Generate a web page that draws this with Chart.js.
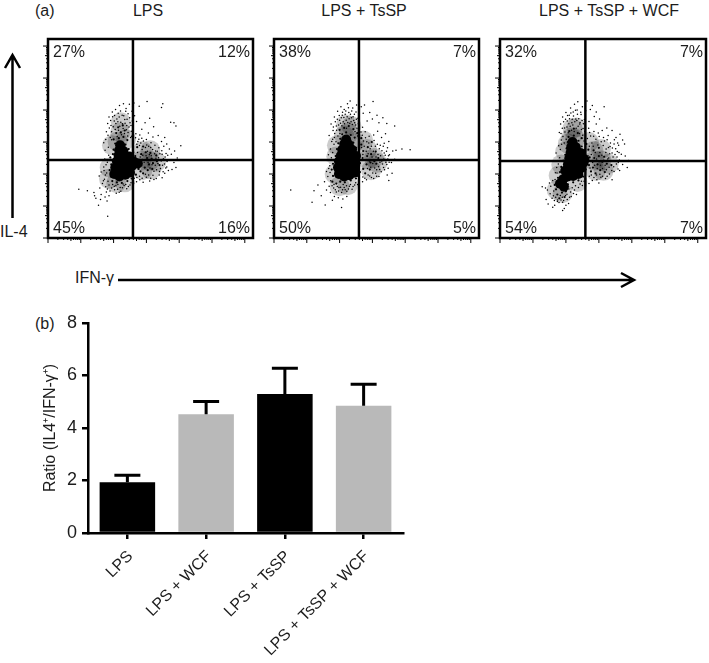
<!DOCTYPE html>
<html>
<head>
<meta charset="utf-8">
<title>IL-4 / IFN-γ</title>
<script src="https://cdn.jsdelivr.net/npm/chart.js@4"></script>
<style>
    html, body { margin: 0; padding: 0; background: #fff; }
    #page { position: relative; width: 709px; height: 663px; overflow: hidden; font-family: "Liberation Sans", Arial, sans-serif; color: #1c1c1c; }
    #page canvas, #page svg { position: absolute; }
    .label { position: absolute; font-size: 16px; line-height: 18px; white-space: nowrap; }
    .mid { transform: translateX(-50%); }
</style>
</head>
<body>
<div id="page">
    <div class="label" style="left:35px;top:2px">(a)</div>
    <div class="label mid" style="left:148px;top:2px">LPS</div>
    <div class="label mid" style="left:364px;top:2px">LPS + TsSP</div>
    <div class="label mid" style="left:609px;top:2px">LPS + TsSP + WCF</div>
    <div class="label" style="left:0;top:223px">IL-4</div>
    <div class="label" style="left:75px;top:269px">IFN-γ</div>
    <div class="label" style="left:35px;top:315px">(b)</div>

    <canvas id="panelLps" width="213" height="207" style="left:42px;top:37px"></canvas>
    <canvas id="panelTssp" width="213" height="207" style="left:268px;top:37px"></canvas>
    <canvas id="panelWcf" width="214" height="207" style="left:494px;top:37px"></canvas>
    <canvas id="ratioChart" width="420" height="358" style="left:0;top:305px"></canvas>

    <svg width="709" height="300" style="left:0;top:0" fill="none" stroke="#000" stroke-width="2.5">
        <path d="M12.5 218V56M5 68L12.5 55L20 68"/>
        <path d="M118 280H633M621 273L634 280L621 287"/>
    </svg>
</div>

<script>
// bar chart values
const ratioLabels = ['LPS', 'LPS + WCF', 'LPS + TsSP', 'LPS + TsSP + WCF'];
const ratioMeans = [1.93, 4.52, 5.3, 4.85];
const ratioUpper = [2.2, 5.01, 6.28, 5.67];
const ratioColors = ['#000000', '#b9b9b9', '#000000', '#b9b9b9'];
const ratioTicks = [0, 2, 4, 6, 8];

// quadrant percentages: top left, top right, bottom left, bottom right
const lpsPercents = ['27%', '12%', '45%', '16%'];
const tsspPercents = ['38%', '7%', '50%', '5%'];
const wcfPercents = ['32%', '7%', '54%', '7%'];

// quadrant gates [IFN-g, IL-4], in log decades
const lpsGate = [2.59, 2.44];
const tsspGate = [2.59, 2.44];
const wcfGate = [2.59, 2.41];

// dot plots in log decades [IFN-g, IL-4]
// haze = where the dots merge to grey, core = where they merge to black
const lpsHaze = [[2.12,3.02],[2.2,3.3],[2.22,3.62],[2.38,3.08],[1.95,2.9],[2.85,2.42],[3.1,2.42],[3.3,2.38],[2.88,2.12],[3.14,2.14],[2.88,2.72],[3.12,2.74],[2.08,1.72],[2.34,1.74],[1.88,2.2],[1.86,1.85]];
const lpsCore = [[2.02,2.0],[2.18,1.92],[2.36,1.98],[2.5,2.05],[2.05,2.2],[2.22,2.15],[2.4,2.2],[2.56,2.25],[2.1,2.4],[2.28,2.38],[2.46,2.4],[2.62,2.38],[2.74,2.33],[2.15,2.58],[2.32,2.56],[2.48,2.55],[2.17,2.74],[2.3,2.72],[2.2,2.9]];
const lpsDense = [[1.9,2.52],[1.93,2.3],[1.88,2.12],[1.92,1.92],[1.96,1.78],[2.1,1.74],[2.25,1.72],[2.42,1.78],[2.55,1.86],[2.68,1.98],[2.82,2.08],[2.95,2.2],[3.08,2.3],[3.2,2.34],[3.32,2.4],[2.88,2.44],[3.02,2.5],[3.16,2.48],[2.84,2.62],[2.98,2.68],[3.12,2.66],[2.76,2.16],[2.9,2.02],[3.04,2.12],[3.18,2.16],[2.05,2.95],[2.36,2.92],[2.46,2.78],[2.0,3.08],[2.16,3.12],[2.3,3.16],[2.42,3.06],[2.08,3.28],[2.22,3.3],[2.34,3.36],[2.0,2.76],[1.98,2.62],[2.6,2.68],[2.66,2.56],[3.3,2.58],[3.4,2.28],[2.14,3.46],[2.28,3.52],[2.72,2.84],[2.9,2.86]];
const lpsSparse = [[1.78,3.32],[1.82,3.58],[1.86,3.78],[1.92,3.52],[1.96,3.94],[2.02,3.66],[2.06,4.02],[2.1,3.72],[2.14,3.9],[2.18,4.14],[2.22,3.62],[2.26,3.84],[2.3,4.2],[2.34,3.7],[2.38,4.05],[2.4,3.52],[2.44,3.88],[2.48,4.18],[2.5,3.6],[2.54,3.34],[2.56,3.96],[2.58,4.1],[2.62,4.22],[2.64,3.82],[2.7,3.64],[2.78,4.12],[3.02,4.27],[3.5,4.2],[3.46,4.08],[3.74,3.62],[3.84,3.6],[3.9,3.5],[3.1,3.74],[3.22,3.48],[2.86,3.4],[2.96,3.6],[3.06,3.28],[3.2,3.16],[3.36,3.2],[3.46,3.02],[3.56,3.14],[3.62,2.94],[3.7,2.78],[3.76,2.62],[3.86,2.72],[4.05,2.88],[3.94,2.5],[3.84,2.36],[3.78,2.14],[3.7,2.44],[3.62,2.22],[3.56,2.02],[3.48,1.88],[3.4,2.08],[3.3,1.86],[3.2,1.96],[3.1,1.78],[3.0,1.9],[2.9,1.74],[2.8,1.82],[2.7,1.76],[3.9,2.2],[3.48,2.62],[3.38,2.82],[3.26,2.9],[3.14,2.98],[3.0,3.08],[2.86,3.12],[2.74,3.02],[2.68,3.26],[2.8,3.22],[3.52,2.48],[3.6,2.64],[3.28,2.72],[1.62,2.06],[1.7,2.22],[1.56,1.94],[1.72,1.84],[1.66,1.7],[1.58,1.56],[1.76,1.6],[1.86,1.66],[1.94,1.56],[2.02,1.62],[2.12,1.52],[2.2,1.58],[2.32,1.64],[2.4,1.54],[2.5,1.66],[2.58,1.56],[2.08,1.4],[2.22,1.46],[1.78,1.44],[1.62,1.36],[1.4,1.42],[1.42,1.32],[1.46,1.24],[1.6,1.2],[1.74,1.28],[1.86,1.32],[1.8,1.16],[1.54,1.02],[0.94,1.52],[1.2,1.48],[1.82,0.68],[1.74,2.74],[1.7,2.98],[1.84,2.84],[1.76,3.08],[1.9,3.14],[1.94,3.32],[2.44,3.3],[2.52,3.14],[2.58,2.94],
    [1.83,3.21],[1.87,3.44],[1.91,3.67],[1.94,3.07],[1.97,3.79],[1.99,3.48],[2.03,3.83],[2.05,3.39],[2.07,3.58],[2.11,3.17],[2.13,3.63],[2.15,3.37],[2.17,3.78],[2.19,3.49],[2.21,3.97],[2.24,3.23],[2.27,3.57],[2.29,3.42],[2.31,3.82],[2.33,3.27],[2.35,3.59],[2.37,3.96],[2.39,3.38],[2.41,3.71],[2.43,3.19],[2.47,3.47],[2.49,3.76],[2.53,3.52],[2.55,3.18],[2.57,3.66],
    [2.67,3.13],[2.71,2.93],[2.73,2.67],[2.77,3.09],[2.79,2.89],[2.81,2.53],[2.83,2.97],[2.87,2.77],[2.89,2.59],[2.91,3.03],[2.93,2.37],[2.97,2.83],[2.99,2.57],[3.01,2.91],[3.03,2.71],[3.05,2.37],[3.07,2.87],[3.09,2.61],[3.11,2.19],[3.13,2.83],[3.15,2.57],[3.17,2.29],[3.19,2.77],[3.21,2.43],[3.23,2.09],[3.25,2.63],[3.27,2.27],[3.29,2.49],[3.31,2.13],[3.33,2.71],[3.35,2.33],[3.37,2.51],[3.39,1.97],[3.41,2.63],[3.43,2.17],[3.45,2.41],[3.47,2.73],[3.49,2.27],[3.51,2.07],[3.53,2.87],[3.55,2.31],[3.57,2.53],[3.59,2.19],[3.63,2.39],[3.65,2.59],[3.67,2.11],[2.71,1.89],[2.79,1.93],[2.87,1.87],[2.97,1.99],[3.07,1.97],[3.13,1.87],[3.23,1.83],
    [1.79,2.03],[1.81,2.37],[1.83,1.77],[1.85,2.59],[1.77,2.29],[1.75,1.97],[1.73,2.47],[1.71,2.11],[1.69,1.79],[1.81,1.53],[1.89,1.47],[1.97,1.67],[2.03,1.51],[2.07,1.63],[2.13,1.67],[2.17,1.43],[2.27,1.57],[2.29,1.69],[2.37,1.67],[2.45,1.61],[2.53,1.73],[2.61,1.71],[2.63,1.87]];

const tsspHaze = [[2.14,3.2],[2.28,3.28],[2.2,3.55],[2.36,3.5],[1.9,2.55],[2.44,3.0],[1.85,2.0],[2.0,1.62],[2.25,1.65],[2.86,2.45],[3.05,2.5],[2.84,2.78],[2.96,2.12],[3.15,2.35],[2.72,3.05],[1.92,2.9]];
const tsspCore = [[1.98,2.0],[2.14,1.92],[2.3,1.96],[2.46,2.04],[1.95,2.2],[2.12,2.16],[2.28,2.18],[2.44,2.22],[1.98,2.4],[2.14,2.36],[2.3,2.38],[2.46,2.4],[2.04,2.58],[2.2,2.56],[2.36,2.58],[2.5,2.56],[2.08,2.76],[2.24,2.74],[2.38,2.76],[2.14,2.94],[2.28,2.92],[2.2,3.08]];
const tsspDense = [[1.8,2.32],[1.76,2.14],[1.8,1.94],[1.78,1.76],[1.9,1.7],[2.02,1.76],[2.16,1.74],[2.34,1.8],[2.5,1.86],[2.62,2.06],[2.72,2.16],[2.82,2.3],[2.94,2.36],[3.06,2.4],[3.18,2.5],[3.28,2.42],[2.7,2.5],[2.84,2.56],[2.96,2.62],[3.1,2.7],[2.72,2.72],[2.86,2.84],[2.66,2.92],[2.78,2.02],[2.92,2.14],[1.88,2.56],[1.92,2.78],[1.96,2.96],[2.02,3.1],[2.42,2.98],[2.5,2.82],[2.08,3.24],[2.2,3.3],[2.34,3.22],[2.46,3.14],[2.0,3.38],[2.14,3.44],[2.28,3.5],[2.42,3.4],[2.54,3.28],[2.66,3.12],[2.98,3.0],[3.12,2.32],[2.62,2.34]];
const tsspSparse = [[1.74,3.56],[1.8,3.36],[1.84,3.78],[1.9,3.5],[1.94,3.96],[2.0,3.68],[2.04,4.1],[2.08,3.84],[2.14,4.02],[2.2,3.68],[2.24,4.2],[2.28,3.92],[2.32,4.28],[2.36,3.76],[2.4,4.06],[2.46,3.6],[2.5,3.94],[2.52,4.16],[2.56,3.74],[2.6,3.5],[2.66,4.1],[2.72,3.9],[2.76,4.16],[2.84,3.66],[2.92,3.92],[3.0,3.72],[3.02,4.27],[3.14,3.84],[3.2,3.6],[3.32,3.76],[3.44,3.58],[3.68,3.5],[3.4,3.26],[3.28,3.14],[3.16,3.34],[3.04,3.22],[2.9,3.18],[2.78,3.32],[2.7,3.46],[3.36,2.96],[3.46,2.82],[3.5,3.02],[3.24,2.9],[3.36,2.66],[3.52,2.6],[3.62,2.72],[3.68,2.46],[3.58,2.36],[3.44,2.3],[3.48,2.18],[3.34,2.2],[3.22,2.14],[3.1,2.02],[3.2,1.92],[3.04,1.86],[2.92,1.94],[2.82,1.82],[2.7,1.76],[3.5,1.8],[3.6,2.02],[4.15,2.76],[3.72,2.74],[3.9,2.78],[1.62,2.42],[1.66,2.6],[1.7,2.26],[1.6,2.08],[1.64,1.92],[1.54,1.76],[1.68,1.62],[1.6,1.5],[1.72,1.42],[1.82,1.56],[1.9,1.44],[1.98,1.58],[2.06,1.42],[2.14,1.58],[2.22,1.46],[2.3,1.62],[2.38,1.52],[2.46,1.66],[1.84,1.3],[1.96,1.26],[2.1,1.22],[2.22,1.3],[1.78,1.18],[1.34,1.66],[1.22,1.48],[1.16,1.12],[1.56,1.03],[2.06,0.95],[0.51,1.5],[1.44,1.32],[1.72,2.78],[1.76,3.02],[1.84,3.14],[1.68,3.2],
    [1.79,3.09],[1.81,3.47],[1.83,2.93],[1.85,3.27],[1.87,3.63],[1.89,3.01],[1.91,3.37],[1.93,3.71],[1.95,3.19],[1.97,3.53],[1.99,3.83],[2.01,3.27],[2.03,3.59],[2.05,3.76],[2.07,3.51],[2.09,3.93],[2.11,3.63],[2.13,3.77],[2.15,3.57],[2.17,3.87],[2.19,3.97],[2.21,3.43],[2.23,3.79],[2.25,3.61],[2.27,4.07],[2.29,3.73],[2.31,3.59],[2.33,3.87],[2.35,3.63],[2.37,3.97],[2.39,3.55],[2.41,3.79],[2.43,3.67],[2.45,3.87],[2.47,3.33],[2.49,3.53],[2.51,3.71],[2.53,3.43],[2.55,3.19],[2.57,3.57],
    [2.65,3.31],[2.67,2.83],[2.69,3.21],[2.71,2.61],[2.73,3.03],[2.75,2.87],[2.77,2.43],[2.79,3.13],[2.81,2.71],[2.83,3.01],[2.85,2.17],[2.87,2.63],[2.89,2.97],[2.91,2.41],[2.93,2.79],[2.95,2.21],[2.97,2.87],[2.99,2.53],[3.01,2.33],[3.03,2.71],[3.05,3.05],[3.07,2.19],[3.09,2.87],[3.11,2.53],[3.13,2.13],[3.15,2.93],[3.17,2.61],[3.19,2.23],[3.21,2.79],[3.23,2.37],[3.25,2.57],[3.27,2.07],[3.29,2.73],[3.31,2.31],[3.33,2.87],[3.35,2.47],[3.37,2.13],[3.39,2.59],[3.41,2.37],[3.43,2.71],[3.45,1.97],[3.47,2.47],[3.49,2.57],[3.51,2.37],[2.71,1.91],[2.77,1.87],[2.87,1.97],[2.97,1.89],[3.01,2.03],[3.13,1.93],
    [1.71,2.05],[1.73,1.79],[1.69,2.43],[1.67,2.17],[1.75,2.51],[1.77,1.63],[1.79,2.67],[1.83,1.67],[1.87,1.51],[1.93,1.61],[1.97,1.47],[2.03,1.59],[2.09,1.51],[2.11,1.67],[2.17,1.51],[2.21,1.63],[2.27,1.53],[2.33,1.67],[2.41,1.61],[2.49,1.73],[2.55,1.67]];

const wcfHaze = [[2.16,3.14],[2.28,3.1],[2.2,3.42],[2.32,3.45],[1.98,2.7],[1.86,2.3],[1.78,1.95],[1.72,1.5],[1.9,1.4],[2.35,1.75],[2.86,2.42],[3.08,2.42],[3.3,2.32],[2.9,2.1],[3.14,2.1],[2.84,2.72],[3.06,2.78],[2.7,3.0],[2.06,2.95]];
const wcfCore = [[1.92,1.84],[2.06,1.92],[2.22,1.94],[2.38,2.0],[1.98,2.1],[2.14,2.12],[2.3,2.14],[2.46,2.18],[2.06,2.3],[2.22,2.3],[2.38,2.32],[2.54,2.36],[2.1,2.48],[2.26,2.48],[2.42,2.5],[2.56,2.46],[2.14,2.66],[2.3,2.66],[2.44,2.66],[2.16,2.84],[2.3,2.84],[2.2,3.0],[1.82,1.7],[1.94,1.6]];
const wcfDense = [[1.7,1.52],[1.66,1.66],[1.74,1.36],[1.88,1.42],[2.0,1.46],[2.06,1.68],[2.22,1.74],[2.38,1.8],[2.52,1.92],[1.76,1.88],[1.82,2.06],[1.86,2.22],[1.92,2.42],[1.98,2.6],[2.02,2.8],[2.06,3.0],[2.08,3.16],[2.24,3.2],[2.38,3.04],[2.48,2.86],[2.56,2.74],[2.1,3.34],[2.24,3.42],[2.36,3.28],[2.48,3.12],[2.7,2.28],[2.82,2.2],[2.96,2.3],[3.1,2.38],[3.24,2.32],[3.38,2.28],[2.72,2.52],[2.86,2.5],[3.0,2.56],[3.16,2.54],[2.76,2.08],[2.9,2.02],[3.04,2.12],[3.18,2.06],[2.68,2.76],[2.84,2.74],[3.0,2.82],[2.62,2.94],[1.8,1.24],[1.96,1.28],[2.6,2.14]];
const wcfSparse = [[1.76,2.42],[1.7,2.66],[1.78,2.88],[1.86,3.06],[1.8,3.3],[1.84,3.56],[1.9,3.78],[1.96,3.44],[2.0,3.92],[2.04,3.66],[2.1,3.84],[2.14,4.06],[2.18,3.6],[2.22,3.94],[2.26,4.18],[2.3,3.72],[2.34,4.0],[2.36,4.26],[2.42,3.56],[2.46,3.86],[2.5,4.1],[2.52,3.42],[2.56,3.7],[2.6,3.98],[2.64,4.28],[2.7,3.64],[2.74,4.02],[2.8,4.14],[2.86,3.8],[2.92,3.56],[3.16,4.1],[3.02,3.72],[3.24,3.44],[3.1,3.36],[2.98,3.28],[2.84,3.18],[2.72,3.3],[3.14,3.14],[3.28,3.2],[3.4,3.36],[3.52,3.14],[3.64,3.24],[3.72,3.06],[3.78,2.94],[3.6,2.9],[3.46,2.94],[3.34,2.86],[3.22,2.78],[3.4,2.66],[3.56,2.7],[3.68,2.62],[3.8,2.56],[3.62,2.44],[3.5,2.4],[3.72,2.3],[3.86,2.2],[3.58,2.16],[3.46,2.08],[3.32,2.0],[3.2,1.86],[3.06,1.9],[2.94,1.82],[2.8,1.8],[2.7,1.7],[3.4,1.82],[3.0,1.72],[2.5,1.64],[2.38,1.58],[2.26,1.5],[2.14,1.44],[2.04,1.2],[2.16,1.3],[1.9,1.12],[1.74,1.14],[1.66,1.02],[1.58,1.24],[1.52,1.38],[1.44,1.5],[1.54,1.62],[1.6,1.8],[1.68,2.04],[1.72,2.2],[1.28,1.6],[1.38,1.56],[1.4,1.2],[1.46,1.06],[1.62,1.32],[1.6,0.96],[1.9,0.86],[1.95,0.92],[2.0,1.02],[2.08,1.08],[2.32,1.36],[3.9,2.42],[2.92,3.94],[3.3,2.5],[1.5,1.72],
    [1.83,2.77],[1.85,3.27],[1.87,2.93],[1.89,3.43],[1.91,3.17],[1.93,3.63],[1.95,2.97],[1.97,3.31],[1.99,3.71],[2.01,3.09],[2.03,3.47],[2.05,3.83],[2.07,3.29],[2.09,3.57],[2.11,3.73],[2.13,3.49],[2.15,3.91],[2.17,3.37],[2.19,3.71],[2.21,3.53],[2.23,3.81],[2.25,3.33],[2.27,3.63],[2.29,3.99],[2.31,3.43],[2.33,3.67],[2.35,3.87],[2.37,3.49],[2.39,3.73],[2.41,3.27],[2.43,3.61],[2.45,3.93],[2.47,3.39],[2.49,3.67],[2.51,3.21],[2.53,3.57],[2.55,3.03],[2.57,3.33],
    [2.65,3.11],[2.67,2.57],[2.69,3.43],[2.71,2.87],[2.73,2.19],[2.75,3.19],[2.77,2.61],[2.79,2.97],[2.81,2.37],[2.83,2.87],[2.85,3.33],[2.87,2.27],[2.89,2.67],[2.91,3.09],[2.93,2.47],[2.95,2.17],[2.97,2.91],[2.99,2.39],[3.01,3.17],[3.03,2.67],[3.05,2.27],[3.07,3.01],[3.09,2.59],[3.11,2.17],[3.13,2.89],[3.15,2.43],[3.17,3.03],[3.19,2.27],[3.21,2.67],[3.23,2.13],[3.25,3.07],[3.27,2.47],[3.29,2.83],[3.31,2.21],[3.33,2.63],[3.35,2.97],[3.37,2.41],[3.39,2.11],[3.41,2.81],[3.43,2.53],[3.45,2.23],[3.47,3.07],[3.49,2.61],[3.51,2.79],[3.53,2.31],[3.55,2.53],[3.57,2.97],[3.59,2.37],[3.61,2.67],[3.63,2.11],[2.71,1.93],[2.77,1.97],[2.85,1.89],[2.93,1.97],[3.03,1.99],[3.11,1.93],[3.25,1.93],
    [1.63,1.47],[1.65,1.17],[1.67,1.83],[1.69,1.27],[1.71,1.71],[1.73,2.03],[1.75,1.19],[1.77,2.31],[1.79,1.11],[1.81,2.51],[1.83,1.33],[1.85,1.19],[1.89,1.27],[1.93,1.17],[1.99,1.33],[2.03,1.37],[2.09,1.53],[2.11,1.27],[2.19,1.57],[2.23,1.39],[2.29,1.63],[2.43,1.69],[2.47,1.77],[2.55,1.77],[2.59,1.85]];

// frame, quadrant percentages and log ticks outside the frame
const flowFrame = {
    id: 'flowFrame',
    afterDraw(chart, args, opts) {
        const { ctx, chartArea: a, scales } = chart;
        ctx.save();
        ctx.strokeStyle = '#000';
        ctx.lineWidth = 1;
        ctx.beginPath();
        for (let dec = 0; dec <= 6; dec++) {
            for (let m = 1; m <= 9; m++) {
                if (dec === 6 && m > 1) break;
                const v = dec + Math.log10(m);
                const len = m === 1 ? 5 : (m === 5 ? 3 : 2);
                const px = scales.x.getPixelForValue(v);
                const py = scales.y.getPixelForValue(v);
                ctx.moveTo(px, a.bottom);
                ctx.lineTo(px, a.bottom + len);
                ctx.moveTo(a.left, py);
                ctx.lineTo(a.left - len, py);
            }
        }
        ctx.stroke();
        ctx.lineWidth = 2.5;
        ctx.strokeRect(a.left, a.top, a.right - a.left, a.bottom - a.top);

        ctx.fillStyle = '#1c1c1c';
        ctx.font = '16px "Liberation Sans", Arial, sans-serif';
        ctx.textBaseline = 'middle';
        ctx.textAlign = 'left';
        ctx.fillText(opts.percents[0], a.left + 5, a.top + 14);
        ctx.fillText(opts.percents[2], a.left + 5, a.bottom - 9);
        ctx.textAlign = 'right';
        ctx.fillText(opts.percents[1], a.right - 3, a.top + 14);
        ctx.fillText(opts.percents[3], a.right - 3, a.bottom - 9);
        ctx.restore();
    }
};

function toPoints(pairs) {
    return pairs.map(p => ({ x: p[0], y: p[1] }));
}

function makePanel(id, haze, core, dense, sparse, gate, percents) {
    const dots = (data, radius, color) => ({
        data: toPoints(data),
        backgroundColor: color,
        pointRadius: radius,
        borderWidth: 0,
        pointBorderWidth: 0
    });
    const gateLine = pts => ({
        data: pts,
        showLine: true,
        borderColor: '#000',
        borderWidth: 2.5,
        pointRadius: 0
    });
    return new Chart(document.getElementById(id), {
        type: 'scatter',
        data: {
            datasets: [
                gateLine([{ x: gate[0], y: 0 }, { x: gate[0], y: 6.22 }]),
                gateLine([{ x: 0, y: gate[1] }, { x: 6.25, y: gate[1] }]),
                dots(sparse, 0.75, '#000'),
                dots(dense, 1.1, '#000'),
                dots(core, 5, '#000'),
                dots(haze, 10, 'rgba(0,0,0,0.2)')
            ]
        },
        options: {
            responsive: false,
            animation: false,
            layout: { autoPadding: false, padding: { left: 6, top: 2, right: 2, bottom: 6 } },
            scales: {
                x: { type: 'linear', display: false, min: 0, max: 6.25 },
                y: { type: 'linear', display: false, min: 0, max: 6.22 }
            },
            plugins: {
                legend: { display: false },
                tooltip: { enabled: false },
                flowFrame: { percents: percents }
            }
        },
        plugins: [flowFrame]
    });
}

makePanel('panelLps', lpsHaze, lpsCore, lpsDense, lpsSparse, lpsGate, lpsPercents);
makePanel('panelTssp', tsspHaze, tsspCore, tsspDense, tsspSparse, tsspGate, tsspPercents);
makePanel('panelWcf', wcfHaze, wcfCore, wcfDense, wcfSparse, wcfGate, wcfPercents);

// error bars, only the upper half
const upperBars = {
    id: 'upperBars',
    afterDatasetsDraw(chart) {
        const { ctx, scales } = chart;
        const meta = chart.getDatasetMeta(0);
        ctx.save();
        ctx.strokeStyle = '#000';
        ctx.lineWidth = 3;
        ratioUpper.forEach((v, i) => {
            const x = meta.data[i].x;
            const top = scales.y.getPixelForValue(v);
            ctx.beginPath();
            ctx.moveTo(x, scales.y.getPixelForValue(ratioMeans[i]));
            ctx.lineTo(x, top);
            ctx.moveTo(x - 13, top);
            ctx.lineTo(x + 13, top);
            ctx.stroke();
        });
        ctx.restore();
    }
};

new Chart(document.getElementById('ratioChart'), {
    type: 'bar',
    data: {
        labels: ratioLabels,
        datasets: [{
            data: ratioMeans,
            backgroundColor: ratioColors,
            borderWidth: 0,
            barPercentage: 0.705,
            categoryPercentage: 1
        }]
    },
    options: {
        responsive: false,
        animation: false,
        layout: { padding: { top: 18, right: 17, left: 0, bottom: 0 } },
        scales: {
            x: {
                afterFit: s => { s.height = 130; },
                grid: { offset: false, drawOnChartArea: false, color: '#000', lineWidth: 2.5, tickLength: 6 },
                border: { color: '#000', width: 2.5 },
                ticks: { color: '#1c1c1c', font: { size: 16, family: '"Liberation Sans", Arial, sans-serif' }, minRotation: 45, maxRotation: 45, padding: 8, labelOffset: 3 }
            },
            y: {
                min: 0,
                max: 8,
                afterFit: s => { s.width = 88; },
                afterBuildTicks: s => { s.ticks = ratioTicks.map(v => ({ value: v })); },
                grid: { drawOnChartArea: false, color: '#000', lineWidth: 2.5, tickLength: 6 },
                border: { color: '#000', width: 2.5 },
                ticks: { color: '#1c1c1c', font: { size: 18, family: '"Liberation Sans", Arial, sans-serif' }, padding: 5 },
                title: {
                    display: true,
                    text: 'Ratio (IL4⁺/IFN-γ⁺)',
                    color: '#1c1c1c',
                    font: { size: 16, family: '"Liberation Sans", Arial, sans-serif' },
                    padding: { top: 41, bottom: 0 }
                }
            }
        },
        plugins: {
            legend: { display: false },
            tooltip: { enabled: false }
        }
    },
    plugins: [upperBars]
});
</script>
</body>
</html>
